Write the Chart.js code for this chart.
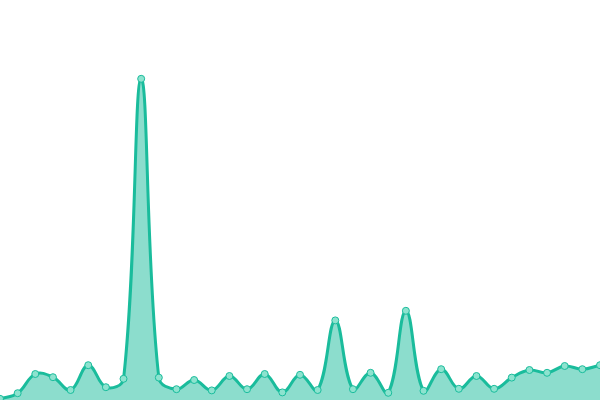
<!DOCTYPE html>
<html>
<head>
<meta charset="utf-8">
<style>
  html, body { margin: 0; padding: 0; background: #fff; }
  #wrap { width: 600px; height: 400px; }
</style>
<script src="https://cdn.jsdelivr.net/npm/chart.js@4/dist/chart.umd.min.js"></script>
</head>
<body>
<div id="wrap"><canvas id="areaChart"></canvas></div>
<script>
const labels = [
  '1', '2', '3', '4', '5', '6', '7', '8', '9', '10', '11', '12',
  '13', '14', '15', '16', '17', '18', '19', '20', '21', '22', '23', '24',
  '25', '26', '27', '28', '29', '30', '31', '32', '33', '34', '35'
];
const values = [
  0.3, 1.7, 6.5, 5.7, 2.5, 8.7, 3.2, 5.3, 80.3, 5.6, 2.7, 5.0,
  2.4, 6.0, 2.7, 6.5, 1.9, 6.3, 2.5, 19.9, 2.7, 6.8, 1.8, 22.3,
  2.3, 7.7, 2.8, 6.0, 2.8, 5.6, 7.5, 6.8, 8.5, 7.7, 8.7
];

new Chart(document.getElementById('areaChart'), {
  type: 'line',
  data: {
    labels: labels,
    datasets: [{
      data: values,
      borderColor: '#1abc9c',
      backgroundColor: 'rgba(26, 188, 156, 0.5)',
      borderWidth: 3,
      fill: 'origin',
      tension: 0.4,
      pointRadius: 3.5,
      pointBorderWidth: 1,
      pointBorderColor: '#1abc9c',
      pointBackgroundColor: '#8de3cf'
    }]
  },
  options: {
    responsive: true,
    maintainAspectRatio: false,
    animation: false,
    layout: { padding: 0, autoPadding: false },
    plugins: {
      legend: { display: false },
      tooltip: { enabled: false }
    },
    scales: {
      x: { display: false, offset: false },
      y: { display: false, min: 0, max: 100 }
    }
  }
});
</script>
</body>
</html>
